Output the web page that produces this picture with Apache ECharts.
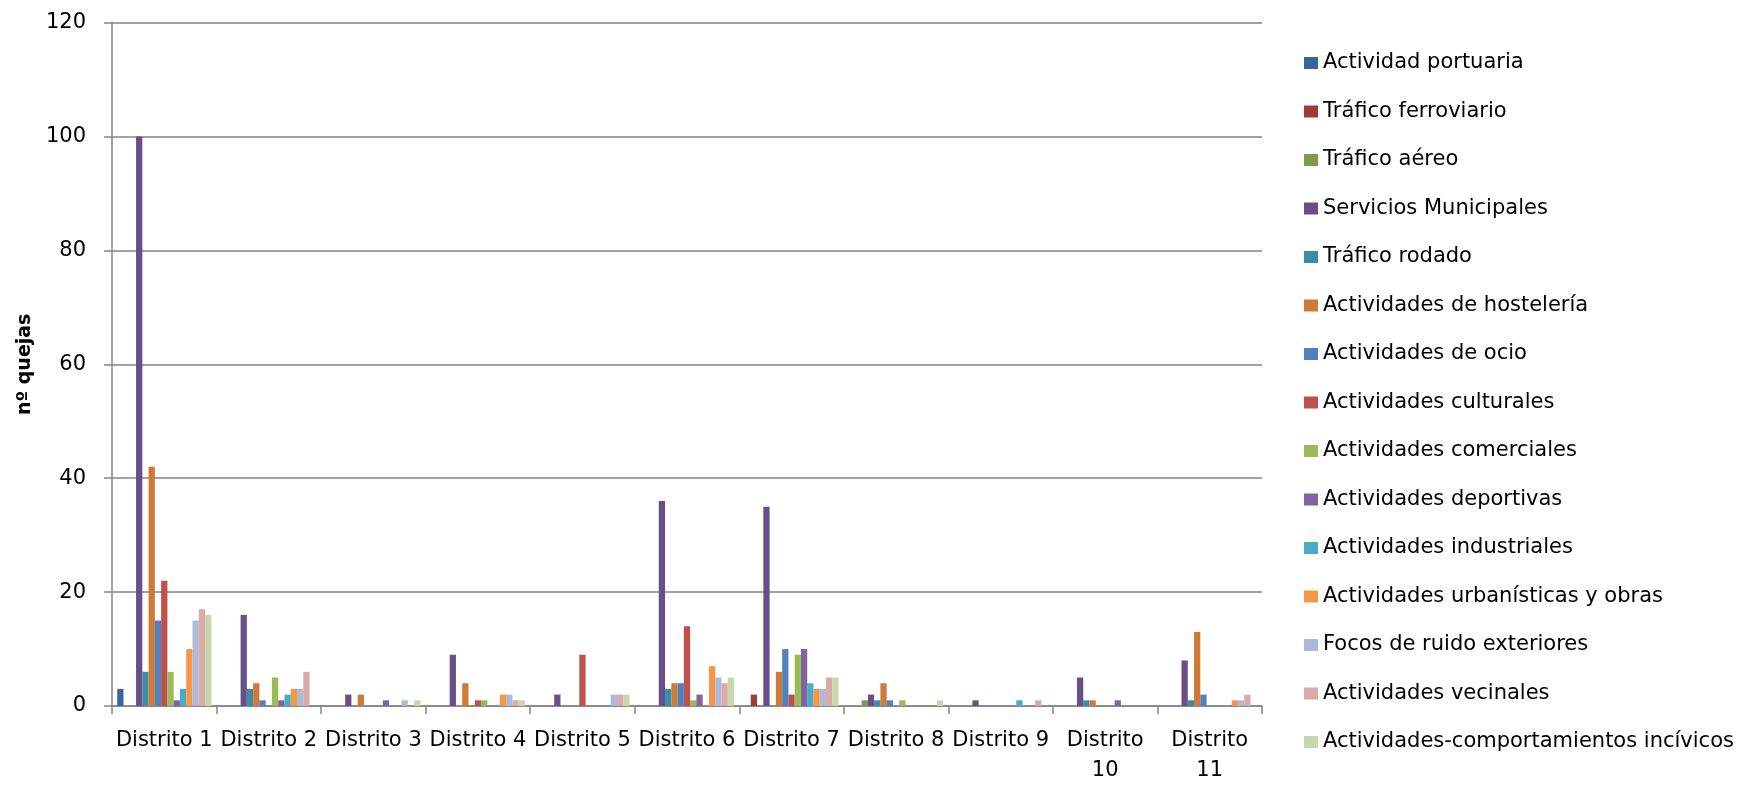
<!DOCTYPE html>
<html>
<head>
<meta charset="utf-8">
<title>Quejas por distrito</title>
<script src="https://cdn.jsdelivr.net/npm/echarts@6/dist/echarts.min.js"></script>
<style>
  html, body { margin: 0; padding: 0; background: #ffffff; }
  #chart { width: 1751px; height: 786px; }
</style>
</head>
<body>
<div id="chart"></div>
<script>
// Districts on the category axis
const districts = ['Distrito 1', 'Distrito 2', 'Distrito 3', 'Distrito 4', 'Distrito 5', 'Distrito 6',
  'Distrito 7', 'Distrito 8', 'Distrito 9', 'Distrito 10', 'Distrito 11'];

// Complaint counts per source, one value per district
const actividadPortuaria        = [3, 0, 0, 0, 0, 0, 0, 0, 0, 0, 0];
const traficoFerroviario        = [0, 0, 0, 0, 0, 0, 2, 0, 0, 0, 0];
const traficoAereo              = [0, 0, 0, 0, 0, 0, 0, 1, 0, 0, 0];
const serviciosMunicipales      = [100, 16, 2, 9, 2, 36, 35, 2, 1, 5, 8];
const traficoRodado             = [6, 3, 0, 0, 0, 3, 0, 1, 0, 1, 1];
const actividadesHosteleria     = [42, 4, 2, 4, 0, 4, 6, 4, 0, 1, 13];
const actividadesOcio           = [15, 1, 0, 0, 0, 4, 10, 1, 0, 0, 2];
const actividadesCulturales     = [22, 0, 0, 1, 9, 14, 2, 0, 0, 0, 0];
const actividadesComerciales    = [6, 5, 0, 1, 0, 1, 9, 1, 0, 0, 0];
const actividadesDeportivas     = [1, 1, 1, 0, 0, 2, 10, 0, 0, 1, 0];
const actividadesIndustriales   = [3, 2, 0, 0, 0, 0, 4, 0, 1, 0, 0];
const actividadesUrbanisticas   = [10, 3, 0, 2, 0, 7, 3, 0, 0, 0, 1];
const focosRuidoExteriores      = [15, 3, 1, 2, 2, 5, 3, 0, 0, 0, 1];
const actividadesVecinales      = [17, 6, 0, 1, 2, 4, 5, 0, 1, 0, 2];
const comportamientosIncivicos  = [16, 0, 1, 1, 2, 5, 5, 1, 0, 0, 0];

const seriesNames = [
  'Actividad portuaria', 'Tráfico ferroviario', 'Tráfico aéreo', 'Servicios Municipales',
  'Tráfico rodado', 'Actividades de hostelería', 'Actividades de ocio', 'Actividades culturales',
  'Actividades comerciales', 'Actividades deportivas', 'Actividades industriales',
  'Actividades urbanísticas y obras', 'Focos de ruido exteriores', 'Actividades vecinales',
  'Actividades-comportamientos incívicos'
];
const seriesValues = [
  actividadPortuaria, traficoFerroviario, traficoAereo, serviciosMunicipales, traficoRodado,
  actividadesHosteleria, actividadesOcio, actividadesCulturales, actividadesComerciales,
  actividadesDeportivas, actividadesIndustriales, actividadesUrbanisticas, focosRuidoExteriores,
  actividadesVecinales, comportamientosIncivicos
];

// Y axis tick values
const yTicks = [0, 20, 40, 60, 80, 100, 120];

// Series palette
const palette = [
  '#3C6597', '#9D3C39', '#7E9B48', '#684F89', '#3A8DA4', '#D07A38', '#4F81BD', '#C0504D',
  '#9BBB59', '#8064A2', '#4BACC6', '#F79646', '#AABAD8', '#DBA9A8', '#C6D7AA'
];

const FONT = 'DejaVu Sans';
const GREY = '#858585';

const chart = echarts.init(document.getElementById('chart'), null, { renderer: 'canvas' });

chart.setOption({
  animation: false,
  backgroundColor: '#ffffff',
  color: palette,
  textStyle: { fontFamily: FONT, color: '#000' },
  grid: { left: 112, right: 489, top: 22.7, bottom: 78, containLabel: false },
  legend: {
    orient: 'vertical',
    left: 1304,
    top: 52,
    padding: 0,
    icon: 'rect',
    itemWidth: 14,
    itemHeight: 12,
    itemGap: 26.5,
    textStyle: { fontFamily: FONT, fontSize: 21, color: '#000', lineHeight: 22, padding: [0, 0, 0, 0] },
    data: seriesNames
  },
  xAxis: {
    type: 'category',
    data: districts,
    axisLine: { lineStyle: { color: GREY, width: 1.5 } },
    axisTick: { show: true, length: 8, inside: false, lineStyle: { color: GREY, width: 1.5 } },
    axisLabel: {
      interval: 0,
      margin: 20,
      fontFamily: FONT,
      fontSize: 21,
      lineHeight: 30,
      color: '#000',
      formatter: function (v) {
        return v.length > 10 ? v.replace(' ', '\n') : v;
      }
    }
  },
  yAxis: {
    type: 'value',
    min: yTicks[0],
    max: yTicks[yTicks.length - 1],
    interval: yTicks[1] - yTicks[0],
    name: 'nº quejas',
    nameLocation: 'middle',
    nameRotate: 90,
    nameGap: 76,
    nameTextStyle: { fontFamily: FONT, fontSize: 19, fontWeight: 'bold', color: '#000' },
    axisLine: { show: true, lineStyle: { color: GREY, width: 1.5 } },
    axisTick: { show: true, length: 8, inside: false, lineStyle: { color: GREY, width: 1.5 } },
    axisLabel: { margin: 26, fontFamily: FONT, fontSize: 21, color: '#000' },
    splitLine: { show: true, lineStyle: { color: GREY, width: 1.5 } }
  },
  series: seriesNames.map(function (name, i) {
    return {
      name: name,
      type: 'bar',
      data: seriesValues[i],
      barGap: '0%',
      barCategoryGap: '10%',
      itemStyle: { color: palette[i] }
    };
  })
});
</script>
</body>
</html>
